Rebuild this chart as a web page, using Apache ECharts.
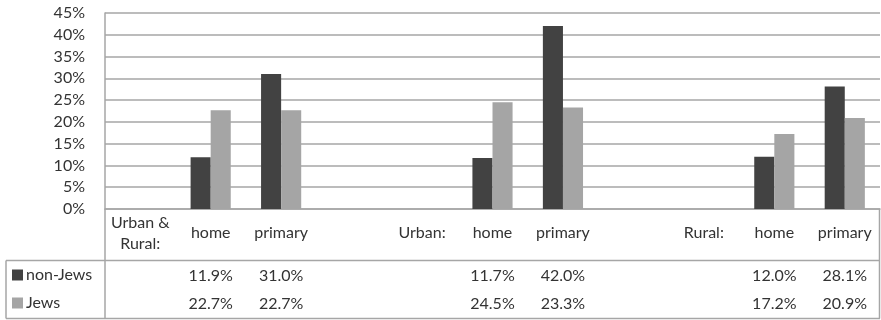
<!DOCTYPE html>
<html>
<head>
<meta charset="utf-8">
<script src="https://cdn.jsdelivr.net/npm/echarts@6/dist/echarts.min.js"></script>
<style>
  html, body { margin: 0; padding: 0; background: #fff; }
  #chart { width: 881px; height: 320px; }
</style>
</head>
<body>
<div id="chart"></div>
<script>
// Category columns (blank columns separate the three groups)
const categories = ['Urban &\nRural:', 'home', 'primary', '', 'Urban:', 'home', 'primary', '', 'Rural:', 'home', 'primary'];
// Shares in percent; null where a column has no value
const nonJews = [null, 11.9, 31.0, null, null, 11.7, 42.0, null, null, 12.0, 28.1];
const jews    = [null, 22.7, 22.7, null, null, 24.5, 23.3, null, null, 17.2, 20.9];
const seriesNames = ['non-Jews', 'Jews'];
const yTicks = { min: 0, max: 45, step: 5 };

const FONT = 'Lato';
const TEXT = '#333333';
const LINE = '#a6a6a6';

const chart = echarts.init(document.getElementById('chart'), null, { renderer: 'canvas' });

const fmtPct = v => (v == null ? '' : v.toFixed(1) + '%');

function tableRowAxis(values, margin) {
  return {
    type: 'category',
    gridIndex: 0,
    position: 'bottom',
    data: categories,
    axisLine: { show: false },
    axisTick: { show: false },
    splitLine: { show: false },
    axisLabel: {
      interval: 0,
      margin: margin,
      verticalAlign: 'middle',
      fontFamily: FONT,
      fontSize: 16,
      color: TEXT,
      formatter: (val, idx) => fmtPct(values[idx])
    }
  };
}

// One legend entry per table row
function rowLegend(name, top) {
  return {
    left: 12,
    top: top,
    padding: 0,
    itemWidth: 11,
    itemHeight: 11,
    itemGap: 0,
    icon: 'rect',
    data: [name],
    textStyle: { fontFamily: FONT, fontSize: 16, color: TEXT, padding: [0, 0, 0, -2] },
    selectedMode: false
  };
}

const option = {
  backgroundColor: '#fff',
  animation: false,
  grid: { left: 105, right: 1, top: 13, bottom: 111, containLabel: false },
  legend: [rowLegend(seriesNames[0], 267), rowLegend(seriesNames[1], 295)],
  xAxis: [
    {
      type: 'category',
      data: categories,
      axisLine: { show: true, lineStyle: { color: LINE, width: 1.5 } },
      axisTick: { show: false },
      axisLabel: {
        interval: 0,
        margin: 24,
        verticalAlign: 'middle',
        fontFamily: FONT,
        fontSize: 16,
        lineHeight: 21,
        color: TEXT
      }
    },
    tableRowAxis(nonJews, 67),
    tableRowAxis(jews, 95)
  ],
  yAxis: {
    type: 'value',
    min: yTicks.min,
    max: yTicks.max,
    interval: yTicks.step,
    axisLine: { show: true, lineStyle: { color: LINE, width: 1.5 } },
    axisTick: { show: false },
    splitLine: { lineStyle: { color: LINE, width: 1.5 } },
    axisLabel: {
      margin: 20,
      fontFamily: FONT,
      fontSize: 16,
      color: TEXT,
      formatter: '{value}%'
    }
  },
  series: [
    {
      name: seriesNames[0],
      type: 'bar',
      data: nonJews,
      barGap: '0%',
      barCategoryGap: '43%',
      itemStyle: { color: '#424242' }
    },
    {
      name: seriesNames[1],
      type: 'bar',
      data: jews,
      itemStyle: { color: '#a5a5a5' }
    }
  ],
  // Data-table borders below the plot
  graphic: [
    { type: 'line', shape: { x1: 6, y1: 260.5, x2: 880, y2: 260.5 }, style: { stroke: LINE, lineWidth: 1.5 } },
    { type: 'line', shape: { x1: 6, y1: 318.5, x2: 880, y2: 318.5 }, style: { stroke: LINE, lineWidth: 1.5 } },
    { type: 'line', shape: { x1: 6, y1: 260.5, x2: 6, y2: 318.5 }, style: { stroke: LINE, lineWidth: 1.5 } },
    { type: 'line', shape: { x1: 105, y1: 209, x2: 105, y2: 318.5 }, style: { stroke: LINE, lineWidth: 1.5 } },
    { type: 'line', shape: { x1: 879.5, y1: 209, x2: 879.5, y2: 318.5 }, style: { stroke: LINE, lineWidth: 1.5 } }
  ]
};

chart.setOption(option);
</script>
</body>
</html>
